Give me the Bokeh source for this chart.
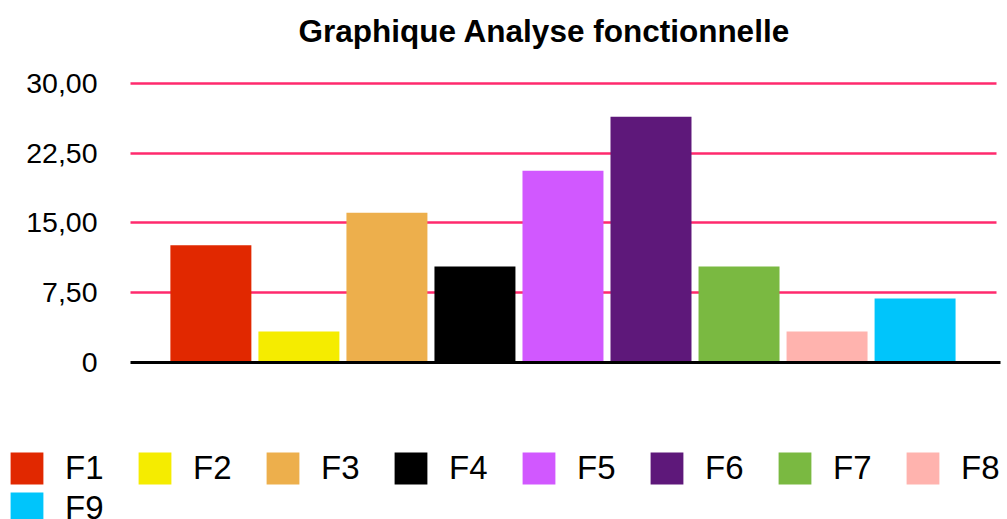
from bokeh.plotting import figure
from bokeh.models import ColumnDataSource, Legend, LegendItem, FixedTicker, Range1d
from bokeh.embed import file_html
from bokeh.resources import INLINE

# ---- data ----
categories = ["F1", "F2", "F3", "F4", "F5", "F6", "F7", "F8", "F9"]
values = [12.6, 3.36, 16.1, 10.33, 20.6, 26.4, 10.33, 3.36, 6.9]
colors = ["#e12800", "#f5ec00", "#edaf4c", "#000000", "#d158ff",
          "#5e187a", "#7ab941", "#ffb3ae", "#00c5fb"]
y_ticks = [0, 7.5, 15, 22.5, 30]
y_tick_labels = ["0", "7,50", "15,00", "22,50", "30,00"]
title_text = "Graphique Analyse fonctionnelle"

FONT = "Liberation Sans"

xs = list(range(len(categories)))
X_LO, X_HI = -0.9125, 8.97          # extent of the plotting area (category units)

p = figure(width=1007, height=519, output_backend="svg", toolbar_location=None,
           x_range=Range1d(-2.39, 9.05), y_range=Range1d(-16.81, 33.72),
           min_border_left=0, min_border_right=0, min_border_top=48,
           min_border_bottom=0)
p.outline_line_color = None
p.background_fill_color = "white"
p.border_fill_color = "white"

p.title.text = title_text
p.title.text_font = FONT
p.title.text_font_size = "31.5px"
p.title.text_font_style = "bold"
p.title.text_color = "black"
p.title.align = "left"
p.title.offset = 298
p.title.standoff = 0

renderers = []
for i, (c, v, col) in enumerate(zip(categories, values, colors)):
    src = ColumnDataSource(dict(x=[xs[i]], top=[v]))
    r = p.vbar(x="x", top="top", bottom=0, width=0.92, source=src,
               fill_color=col, line_color=None)
    renderers.append(r)

# grid
p.xgrid.grid_line_color = None
p.ygrid.grid_line_color = "#ff2a6d"
p.ygrid.grid_line_width = 2.6
p.ygrid.ticker = FixedTicker(ticks=y_ticks[1:])
p.ygrid.cross_bounds = (X_LO, 8.93)

# y axis (drawn at the left edge of the plotting area)
p.yaxis.fixed_location = X_LO
p.yaxis.bounds = (0, 30)
p.yaxis.ticker = FixedTicker(ticks=y_ticks)
p.yaxis.major_label_overrides = {t: l for t, l in zip(y_ticks, y_tick_labels)}
p.yaxis.axis_line_color = None
p.yaxis.major_tick_line_color = None
p.yaxis.minor_tick_line_color = None
p.yaxis.major_tick_out = 0
p.yaxis.major_tick_in = 0
p.yaxis.major_label_standoff = 33
p.yaxis.major_label_text_font = FONT
p.yaxis.major_label_text_font_size = "28.5px"
p.yaxis.major_label_text_color = "black"

# x axis: baseline only
p.xaxis.fixed_location = 0
p.xaxis.bounds = (X_LO, X_HI)
p.xaxis.ticker = FixedTicker(ticks=[])
p.xaxis.axis_line_color = "black"
p.xaxis.axis_line_width = 3
p.xaxis.major_tick_line_color = None
p.xaxis.minor_tick_line_color = None
p.xaxis.major_tick_out = 0
p.xaxis.major_label_standoff = 0
p.xaxis.major_label_text_font_size = "0px"

items = [LegendItem(label=c, renderers=[r]) for c, r in zip(categories, renderers)]
legend = Legend(items=items, orientation="horizontal", ncols=8,
                location=(6, -9), glyph_width=41, glyph_height=40,
                label_standoff=18, label_width=69, spacing=0, padding=0, margin=0,
                border_line_color=None, background_fill_alpha=0,
                label_text_font=FONT, label_text_font_size="33px",
                label_text_color="black")
p.add_layout(legend, "center")

open("out.html", "w").write(file_html(p, INLINE))
